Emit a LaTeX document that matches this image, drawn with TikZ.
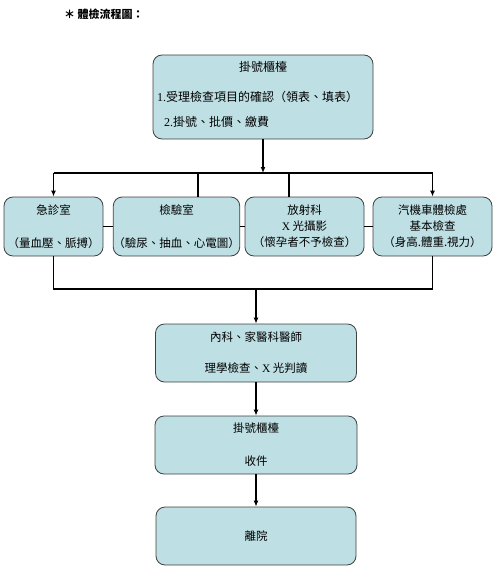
\documentclass[tikz,border=0pt]{standalone}
\usepackage{fontspec}
\setmainfont{Noto Sans CJK TC}
\newfontfamily\latinrm{Liberation Serif}
\usetikzlibrary{arrows.meta,positioning}
\definecolor{boxblue}{HTML}{BEDFE3}
\begin{document}
\begin{tikzpicture}[x=1pt,y=1pt,>={Latex[length=6pt,width=5pt]},
  box/.style={draw=black!75,fill=boxblue,rounded corners=9pt,line width=0.8pt,
    align=center,font=\fontsize{11.5}{16}\selectfont,inner sep=0pt},
  flow/.style={line width=1.4pt},
  txt/.style={font=\fontsize{12}{14}\selectfont,inner sep=0pt}]
  \useasboundingbox (0,0) rectangle (497,-567);
  \node[txt,font=\bfseries\fontsize{11}{13}\selectfont,anchor=west] (title) at (64,-14) {＊ 體檢流程圖：};
  % registration counter
  \node[box,minimum width=220pt,minimum height=84pt] (reg) at (263,-97) {};
  \node[txt] (regA) at (263,-67) {掛號櫃檯};
  \node[txt,anchor=west] (regB) at (157,-97) {{\latinrm 1.}受理檢查項目的確認（領表、填表）};
  \node[txt,anchor=west] (regC) at (164,-122) {{\latinrm 2.}掛號、批價、繳費};
  % examination rooms
  \node[box,minimum width=99pt,minimum height=59pt] (er) at (53.5,-226.5)
    {急診室\\[17pt]（量血壓、脈搏）};
  \node[box,minimum width=125pt,minimum height=59pt] (lab) at (176.5,-226.5)
    {檢驗室\\[17pt]（驗尿、抽血、心電圖）};
  \node[box,minimum width=119pt,minimum height=59pt] (xray) at (304.5,-226.5)
    {放射科\\{\latinrm X} 光攝影\\（懷孕者不予檢查）};
  \node[box,minimum width=119pt,minimum height=59pt] (motor) at (432.5,-226.5)
    {汽機車體檢處\\基本檢查\\（身高.體重.視力）};
  % doctors, counter, leave
  \node[box,minimum width=201pt,minimum height=58pt] (doc) at (256,-353)
    {內科、家醫科醫師\\[15pt]理學檢查、{\latinrm X} 光判讀};
  \node[box,minimum width=202pt,minimum height=58pt] (recv) at (256,-445)
    {掛號櫃檯\\[17pt]收件};
  \node[box,minimum width=200pt,minimum height=58pt] (leave) at (256,-536) {離院};

  \coordinate (split) at (263,-173);
  \coordinate (join) at (256,-289);
  \draw[flow,->] (reg) -- (split);
  \draw[flow] (er.north |- split) -- (motor.north |- split);
  \draw[flow,->] (er.north |- split) -- (er);
  \draw[flow,->] (motor.north |- split) -- (motor);
  \draw[flow] ([xshift=21.5pt]lab.north |- split) -- ([xshift=21.5pt]lab.north);
  \draw[flow] ([xshift=-15.5pt]xray.north |- split) -- ([xshift=-15.5pt]xray.north);
  \draw[flow] (er) -- (lab);
  \draw[flow] (lab) -- (xray);
  \draw[flow] (xray) -- (motor);
  \draw[flow] (er) |- (join) -| (motor);
  \draw[flow,->] (join) -- (doc);
  \draw[flow,->] (doc) -- (recv);
  \draw[flow,->] (recv) -- (leave);
\end{tikzpicture}
\end{document}
